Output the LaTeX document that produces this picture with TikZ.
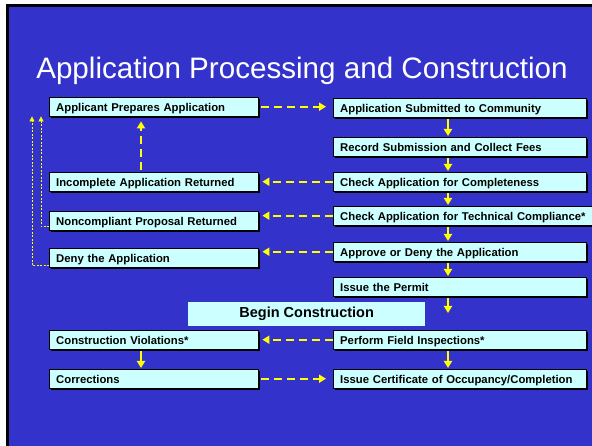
\documentclass[tikz,border=0pt]{standalone}
\usepackage{fontspec}
\setmainfont{Liberation Sans}
\usepackage{tikz}
\usetikzlibrary{arrows.meta,shadows}
\definecolor{slide}{RGB}{51,51,204}
\definecolor{boxcyan}{RGB}{204,255,255}
\definecolor{arrowyellow}{RGB}{255,255,0}

\begin{document}
\begin{tikzpicture}[x=1pt,y=-1pt,
	box/.style={draw=black,fill=boxcyan,anchor=north west,align=left,inner xsep=7pt,inner ysep=4pt,
		text height=10.5pt,text depth=0.5pt,font=\bfseries\fontsize{11.3}{13}\selectfont,
		drop shadow={shadow xshift=2pt,shadow yshift=-2pt,fill=black,opacity=1}},
	lbox/.style={box,text width=195pt},
	rbox/.style={box,text width=239pt},
	flow/.style={arrowyellow,line width=2pt,-{Triangle[length=7pt,width=8pt]},shorten <=2pt,shorten >=1pt},
	back/.style={arrowyellow,line width=2pt,dash pattern=on 8pt off 5pt,-{Triangle[length=7pt,width=8pt]}},
	loopback/.style={arrowyellow,line width=0.6pt,dash pattern=on 2pt off 1.5pt,-{Triangle[length=5pt,width=5pt]}}]
	\useasboundingbox (0,0) rectangle (592,446);
	\fill[white] (0,0) rectangle (592,446);
	\fill[black] (6,4) rectangle (592,446);
	\fill[slide] (9,7) rectangle (592,446);
	\node[white,anchor=base,font=\fontsize{29.6}{34}\selectfont] (heading) at (302,79) {Application Processing and Construction};

	\node[lbox] (applicant) at (49,97) {Applicant Prepares Application};
	\node[lbox] (incomplete) at (49,172) {Incomplete Application Returned};
	\node[lbox] (noncompliant) at (49,211) {Noncompliant Proposal Returned};
	\node[lbox] (deny) at (49,248) {Deny the Application};
	\node[lbox] (violations) at (49,330) {Construction Violations*};
	\node[lbox] (corrections) at (49,369) {Corrections};

	\node[rbox] (submitted) at (333,98) {Application Submitted to Community};
	\node[rbox] (record) at (333,137) {Record Submission and Collect Fees};
	\node[rbox] (completeness) at (333,172) {Check Application for Completeness};
	\node[box,text width=250pt] (technical) at (333,206) {Check Application for Technical Compliance*};
	\node[rbox] (approve) at (333,242) {Approve or Deny the Application};
	\node[rbox] (permit) at (333,277) {Issue the Permit};
	\node[rbox] (inspections) at (333,330) {Perform Field Inspections*};
	\node[rbox] (certificate) at (333,369) {Issue Certificate of Occupancy/Completion};

	\node[fill=boxcyan,anchor=north west,minimum width=237pt,minimum height=24pt,inner sep=0pt,
		font=\bfseries\fontsize{14.5}{17}\selectfont] (begin) at (188,302) {Begin Construction};

	\coordinate (rc) at (448,0);
	\coordinate (lc) at (141,0);
	\coordinate (fa) at (41,0);
	\coordinate (fb) at (32,0);
	\coordinate (permitend) at (448,314);

	\draw[flow] (submitted.south -| rc) -- (record.north -| rc);
	\draw[flow] (record.south -| rc) -- (completeness.north -| rc);
	\draw[flow] (completeness.south -| rc) -- (technical.north -| rc);
	\draw[flow] (technical.south -| rc) -- (approve.north -| rc);
	\draw[flow] (approve.south -| rc) -- (permit.north -| rc);
	\draw[flow] (permit.south -| rc) -- (permitend);
	\draw[flow] (inspections.south -| rc) -- (certificate.north -| rc);
	\draw[flow] (violations.south -| lc) -- (corrections.north -| lc);

	\draw[back,shorten <=3pt,shorten >=7pt] (applicant.east) -- (applicant.east -| submitted.west);
	\draw[back,shorten >=4pt] (completeness.west) -- (incomplete.east);
	\draw[back,shorten >=4pt] (technical.west) -- (technical.west -| noncompliant.east);
	\draw[back,shorten >=4pt] (approve.west) -- (approve.west -| deny.east);
	\draw[back,shorten >=4pt] (inspections.west) -- (violations.east);
	\draw[back,shorten <=3pt,shorten >=7pt] (corrections.east) -- (certificate.west);
	\draw[back,shorten <=2pt,shorten >=5pt] (incomplete.north -| lc) -- (applicant.south -| lc);

	\draw[loopback] ([yshift=-6pt]noncompliant.west) -| (applicant.south -| fa);
	\draw[loopback] ([yshift=-8pt]deny.west) -| (applicant.south -| fb);
\end{tikzpicture}
\end{document}
